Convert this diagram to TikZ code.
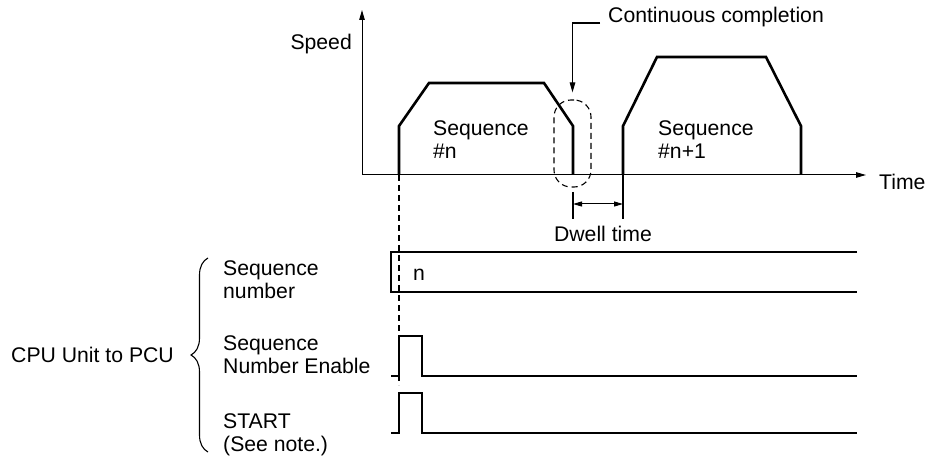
\documentclass[tikz,border=0pt]{standalone}
\usepackage{fontspec}
\setmainfont{Liberation Sans}
\usetikzlibrary{arrows.meta,positioning,decorations.pathreplacing}

\begin{document}
\begin{tikzpicture}[x=1pt,y=-1pt,
  lbl/.style={inner sep=0pt,align=left,font=\fontsize{21.2}{23}\selectfont,text=black},
  axis/.style={line width=1pt,-{Triangle[length=10pt,width=5.5pt]}},
  profile/.style={line width=2.6pt,line join=miter},
  signal/.style={line width=2pt},
  thinline/.style={line width=1.1pt},
  guide/.style={line width=1.8pt,dash pattern=on 6pt off 4pt},
  dimarrow/.style={line width=1pt,{Triangle[length=9pt,width=5pt]}-{Triangle[length=9pt,width=5pt]}}
]
\useasboundingbox (0,0) rectangle (932,457);
\coordinate (o) at (362,175);
\coordinate (ytop) at (362,10);
\coordinate (xend) at (866,175);
\draw[axis] (o) -- (ytop);
\draw[axis] (o) -- (xend);
\node[lbl,anchor=east] (speed) at (352,44) {Speed};
\node[lbl,anchor=west] (time) at (879,182) {Time};

\draw[profile] (399,175) -- (399,126) -- (429,83) -- (544,83) -- (573,126) -- (573,175);
\draw[profile] (623,175) -- (623,126) -- (657,57) -- (766,57) -- (801,126) -- (801,175);
\node[lbl,anchor=north west] (seqa) at (433,120) {Sequence\\\#n};
\node[lbl,anchor=north west] (seqb) at (658,120) {Sequence\\\#n+1};

\node[draw,thinline,dash pattern=on 6pt off 4pt,rounded corners=17pt,minimum width=37pt,minimum height=87pt] (cc) at (572.5,143.5) {};
\node[lbl,anchor=base west] (cclbl) at (608,23) {Continuous completion};
\draw[thinline,-{Triangle[length=10pt,width=5.5pt]}] ([xshift=-8pt]cclbl.base west) -| ([yshift=7pt]cc.north);

\coordinate (dw1) at (573,204);
\coordinate (dw2) at (623,204);
\draw[thinline] (573,192) -- (573,219);
\draw[thinline] (623,175) -- (623,219);
\draw[dimarrow] (dw1) -- (dw2);
\node[lbl,anchor=base] (dwell) at (603,242) {Dwell time};

\draw[guide] (399,175) -- (399,385);
\draw[thinline] (857,252) -- (391,252) -- (391,292) -- (857,292);
\node[lbl,anchor=base west] (nval) at (413,280) {n};
\draw[signal] (391,376) -- (399,376) -- (399,336) -- (422,336) -- (422,376) -- (857,376);
\draw[signal] (391,433) -- (399,433) -- (399,393) -- (422,393) -- (422,433) -- (857,433);

\node[lbl,anchor=north west] (seqnum) at (223,260) {Sequence\\number};
\node[lbl,anchor=north west] (enable) at (223,335) {Sequence\\Number Enable};
\node[lbl,anchor=north west] (start) at (223,413) {START\\(See note.)};
\draw[thinline,decorate,decoration={brace,amplitude=17pt}] (208,452) -- (208,258);
\coordinate (tip) at (191,355);
\node[lbl,left=17pt of tip] (cpu) {CPU Unit to PCU};
\end{tikzpicture}
\end{document}
